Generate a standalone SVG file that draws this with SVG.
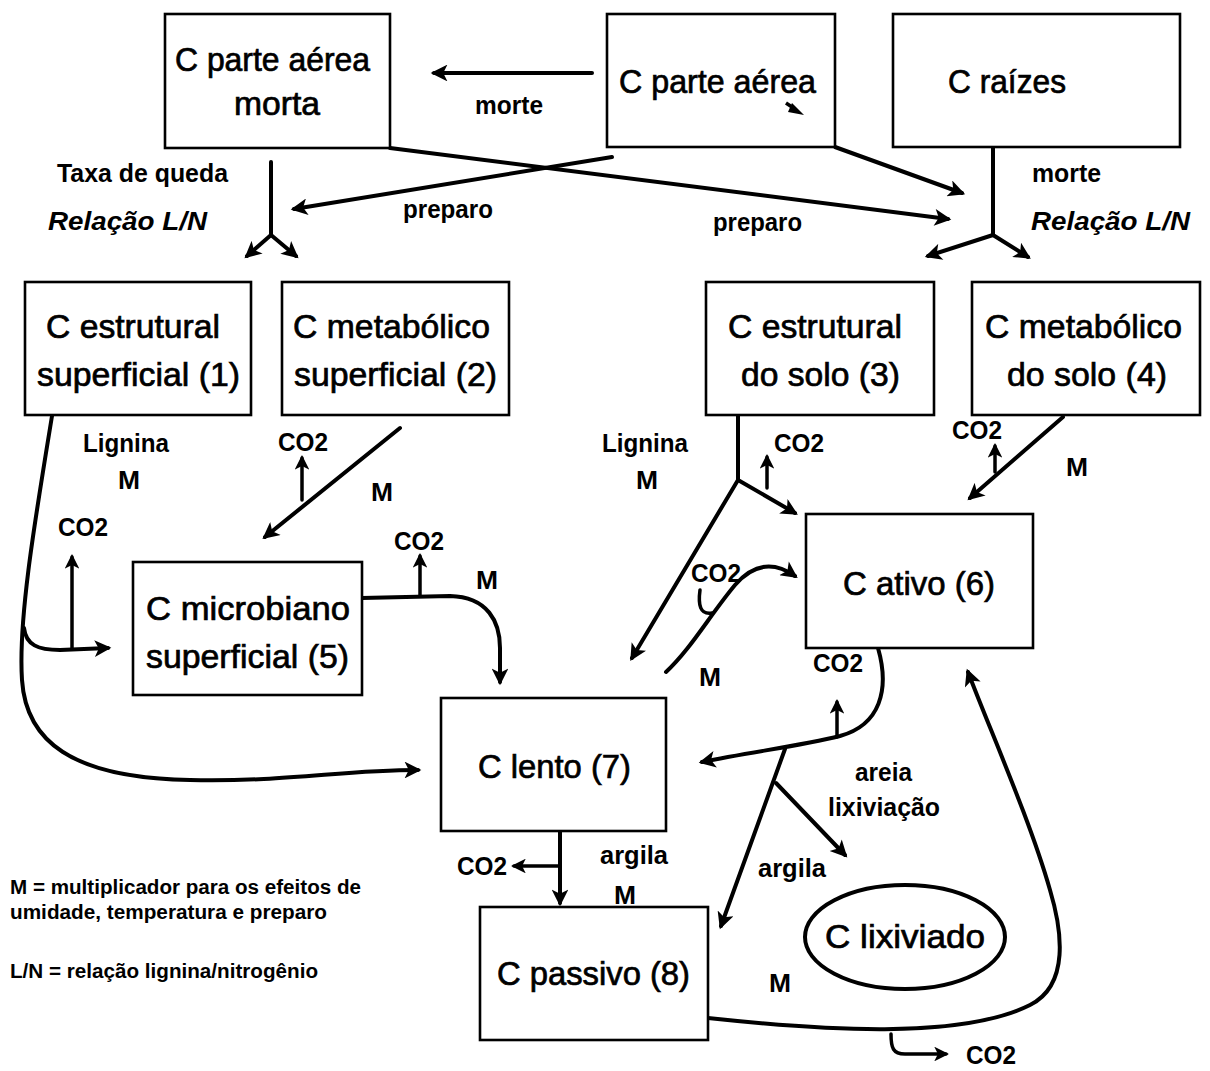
<svg xmlns="http://www.w3.org/2000/svg" width="1210" height="1071" viewBox="0 0 1210 1071">
<style>
.box{fill:#fff;stroke:#000;stroke-width:2.6}
.t{font-family:"Liberation Sans",Arial,sans-serif;font-size:33px;fill:#000;stroke:#000;stroke-width:0.7}
.l{font-family:"Liberation Sans",Arial,sans-serif;font-size:25px;font-weight:bold;fill:#000}
.i{font-style:italic}
.g{font-family:"Liberation Sans",Arial,sans-serif;font-size:20px;font-weight:bold;fill:#000}
.c{fill:none;stroke:#000;stroke-width:4;stroke-linecap:round;stroke-linejoin:round}
.s{stroke-width:3.5}
.a{marker-end:url(#ah)}
</style>
<defs>
<marker id="ah" viewBox="0 0 10 10" refX="8" refY="5" markerWidth="4.6" markerHeight="4.2" markerUnits="strokeWidth" orient="auto">
<path d="M0,0 L10,5 L0,10 L2.5,5 Z" fill="#000"/>
</marker>
</defs>
<rect width="1210" height="1071" fill="#fff"/>

<g id="connectors">
<path class="c a" d="M592,73 L434,73"/>
<path class="c a" d="M390,148 L948,219"/>
<path class="c a" d="M612,157 L294,209"/>
<path class="c a" d="M835,147 L962,193"/>
<path class="c" d="M271,162 L271,235"/>
<path class="c a" d="M271,235 L247,256"/>
<path class="c a" d="M271,235 L296,256"/>
<path class="c" d="M993,148 L993,235"/>
<path class="c a" d="M993,235 L928,256"/>
<path class="c a" d="M993,235 L1028,257"/>

<path class="c a" d="M52,416 C35,520 18,620 22,680 C26,740 70,778 190,780 C290,782 340,770 418,770"/>
<path class="c a" d="M24,628 C26,645 38,650 60,650 L108,648"/>
<path class="c s a" d="M72,648 L72,557"/>
<path class="c a" d="M400,428 L265,537"/>
<path class="c s a" d="M302,500 L302,458"/>
<path class="c a" d="M362,598 L450,596 C488,597 500,622 500,648 L500,682"/>
<path class="c s a" d="M420,596 L420,556"/>

<path class="c" d="M738,415 L738,480"/>
<path class="c a" d="M738,480 L632,658"/>
<path class="c a" d="M738,480 L795,513"/>
<path class="c s a" d="M767,488 L767,457"/>
<path class="c a" d="M1063,417 L970,498"/>
<path class="c s a" d="M995,472 L995,446"/>
<path class="c a" d="M666,672 C690,650 710,615 735,585 C755,562 775,562 795,576"/>
<path class="c s" d="M700,590 C698,605 700,615 712,613"/>
<path class="c a" d="M878,648 C890,690 880,725 840,736 C800,746 750,752 702,762"/>
<path class="c s a" d="M837,737 L837,702"/>
<path class="c a" d="M785,749 L721,926"/>
<path class="c a" d="M776,783 L845,855"/>
<path class="c a" d="M708,1018 C820,1030 960,1040 1030,1005 C1070,985 1062,930 1050,890 C1030,820 990,730 968,672"/>
<path class="c s a" d="M891,1034 C891,1048 893,1054 905,1054 L946,1054"/>
<path class="c a" d="M560,831 L560,903"/>
<path class="c s a" d="M560,866 L514,866"/>
</g>

<g id="n-parte-aerea-morta"><rect class="box" x="165" y="14" width="225" height="134"/><text class="t" x="175" y="71" textLength="195" lengthAdjust="spacingAndGlyphs">C parte aérea</text><text class="t" x="234" y="115" textLength="86" lengthAdjust="spacingAndGlyphs">morta</text></g>
<g id="n-parte-aerea"><rect class="box" x="607" y="14" width="228" height="133"/><text class="t" x="619" y="93" textLength="197" lengthAdjust="spacingAndGlyphs">C parte aérea</text><path d="M786,103 L795,109" stroke="#000" stroke-width="3.5"/><polygon points="792,103 804,115 788,112" fill="#000"/></g>
<g id="n-raizes"><rect class="box" x="893" y="14" width="287" height="133"/><text class="t" x="948" y="93" textLength="118" lengthAdjust="spacingAndGlyphs">C raízes</text></g>
<g id="n1"><rect class="box" x="25" y="282" width="226" height="133"/><text class="t" x="46" y="338" textLength="174" lengthAdjust="spacingAndGlyphs">C estrutural</text><text class="t" x="37" y="386" textLength="203" lengthAdjust="spacingAndGlyphs">superficial (1)</text></g>
<g id="n2"><rect class="box" x="282" y="282" width="227" height="133"/><text class="t" x="293" y="338" textLength="197" lengthAdjust="spacingAndGlyphs">C metabólico</text><text class="t" x="294" y="386" textLength="203" lengthAdjust="spacingAndGlyphs">superficial (2)</text></g>
<g id="n3"><rect class="box" x="706" y="282" width="228" height="133"/><text class="t" x="728" y="338" textLength="174" lengthAdjust="spacingAndGlyphs">C estrutural</text><text class="t" x="741" y="386" textLength="159" lengthAdjust="spacingAndGlyphs">do solo (3)</text></g>
<g id="n4"><rect class="box" x="972" y="282" width="228" height="133"/><text class="t" x="985" y="338" textLength="197" lengthAdjust="spacingAndGlyphs">C metabólico</text><text class="t" x="1007" y="386" textLength="160" lengthAdjust="spacingAndGlyphs">do solo (4)</text></g>
<g id="n5"><rect class="box" x="133" y="562" width="229" height="133"/><text class="t" x="146" y="620" textLength="204" lengthAdjust="spacingAndGlyphs">C microbiano</text><text class="t" x="146" y="668" textLength="203" lengthAdjust="spacingAndGlyphs">superficial (5)</text></g>
<g id="n6"><rect class="box" x="806" y="514" width="227" height="134"/><text class="t" x="843" y="595" textLength="152" lengthAdjust="spacingAndGlyphs">C ativo (6)</text></g>
<g id="n7"><rect class="box" x="441" y="698" width="225" height="133"/><text class="t" x="478" y="778" textLength="153" lengthAdjust="spacingAndGlyphs">C lento (7)</text></g>
<g id="n8"><rect class="box" x="480" y="907" width="228" height="133"/><text class="t" x="497" y="985" textLength="193" lengthAdjust="spacingAndGlyphs">C passivo (8)</text></g>
<g id="n-lixiviado"><ellipse cx="905" cy="937" rx="100" ry="52" fill="#fff" stroke="#000" stroke-width="4"/><text class="t" x="825" y="948" textLength="160" lengthAdjust="spacingAndGlyphs">C lixiviado</text></g>

<g id="labels">
<text class="l" x="475" y="114" textLength="68" lengthAdjust="spacingAndGlyphs">morte</text>
<text class="l" x="57" y="182" textLength="171" lengthAdjust="spacingAndGlyphs">Taxa de queda</text>
<text class="l i" x="48" y="230" textLength="159" lengthAdjust="spacingAndGlyphs">Relação L/N</text>
<text class="l" x="403" y="218" textLength="90" lengthAdjust="spacingAndGlyphs">preparo</text>
<text class="l" x="713" y="231" textLength="89" lengthAdjust="spacingAndGlyphs">preparo</text>
<text class="l" x="1032" y="182" textLength="69" lengthAdjust="spacingAndGlyphs">morte</text>
<text class="l i" x="1031" y="230" textLength="159" lengthAdjust="spacingAndGlyphs">Relação L/N</text>
<text class="l" x="83" y="452" textLength="86" lengthAdjust="spacingAndGlyphs">Lignina</text>
<text class="l" x="118" y="489" textLength="22" lengthAdjust="spacingAndGlyphs">M</text>
<text class="l" x="58" y="536" textLength="50" lengthAdjust="spacingAndGlyphs">CO2</text>
<text class="l" x="278" y="451" textLength="50" lengthAdjust="spacingAndGlyphs">CO2</text>
<text class="l" x="371" y="501" textLength="22" lengthAdjust="spacingAndGlyphs">M</text>
<text class="l" x="394" y="550" textLength="50" lengthAdjust="spacingAndGlyphs">CO2</text>
<text class="l" x="476" y="589" textLength="22" lengthAdjust="spacingAndGlyphs">M</text>
<text class="l" x="602" y="452" textLength="86" lengthAdjust="spacingAndGlyphs">Lignina</text>
<text class="l" x="636" y="489" textLength="22" lengthAdjust="spacingAndGlyphs">M</text>
<text class="l" x="774" y="452" textLength="50" lengthAdjust="spacingAndGlyphs">CO2</text>
<text class="l" x="952" y="439" textLength="50" lengthAdjust="spacingAndGlyphs">CO2</text>
<text class="l" x="1066" y="476" textLength="22" lengthAdjust="spacingAndGlyphs">M</text>
<text class="l" x="691" y="582" textLength="50" lengthAdjust="spacingAndGlyphs">CO2</text>
<text class="l" x="699" y="686" textLength="22" lengthAdjust="spacingAndGlyphs">M</text>
<text class="l" x="813" y="672" textLength="50" lengthAdjust="spacingAndGlyphs">CO2</text>
<text class="l" x="855" y="781" textLength="57" lengthAdjust="spacingAndGlyphs">areia</text>
<text class="l" x="828" y="816" textLength="112" lengthAdjust="spacingAndGlyphs">lixiviação</text>
<text class="l" x="758" y="877" textLength="68" lengthAdjust="spacingAndGlyphs">argila</text>
<text class="l" x="769" y="992" textLength="22" lengthAdjust="spacingAndGlyphs">M</text>
<text class="l" x="457" y="875" textLength="50" lengthAdjust="spacingAndGlyphs">CO2</text>
<text class="l" x="600" y="864" textLength="68" lengthAdjust="spacingAndGlyphs">argila</text>
<text class="l" x="614" y="904" textLength="22" lengthAdjust="spacingAndGlyphs">M</text>
<text class="l" x="966" y="1064" textLength="50" lengthAdjust="spacingAndGlyphs">CO2</text>
<text class="g" x="10" y="894" textLength="351" lengthAdjust="spacingAndGlyphs">M = multiplicador para os efeitos de</text>
<text class="g" x="10" y="919" textLength="317" lengthAdjust="spacingAndGlyphs">umidade, temperatura e preparo</text>
<text class="g" x="10" y="978" textLength="308" lengthAdjust="spacingAndGlyphs">L/N = relação lignina/nitrogênio</text>
</g>
</svg>
